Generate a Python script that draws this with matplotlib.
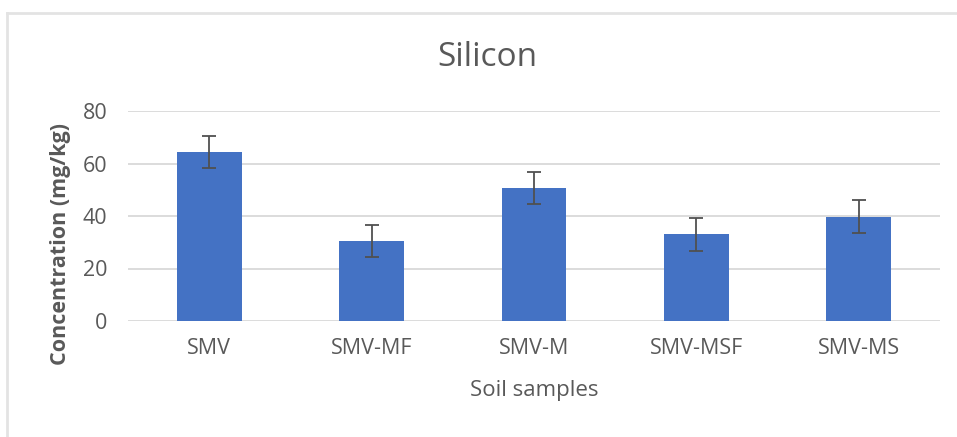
import matplotlib.pyplot as plt
from matplotlib.lines import Line2D
import numpy as np

# data
samples = ['SMV', 'SMV-MF', 'SMV-M', 'SMV-MSF', 'SMV-MS']
silicon = [64.3, 30.6, 50.7, 33.0, 39.8]
errors = [6.1, 6.1, 6.2, 6.2, 6.2]
yticks = [0, 20, 40, 60, 80]

plt.rcParams['font.family'] = ['Open Sans', 'DejaVu Sans']
txt = '#595959'

W, H = 957, 437
fig = plt.figure(figsize=(W / 100, H / 100), dpi=100)
ax = fig.add_axes([128 / W, 1 - 321 / H, 812 / W, 210 / H])

x = np.arange(len(samples))
ax.bar(x, silicon, width=0.4, color='#4472C4', zorder=3)
ax.errorbar(x, silicon, yerr=errors, fmt='none', ecolor='#505050',
            elinewidth=1.3, capsize=4.7, capthick=1.3, zorder=4)

ax.set_xlim(-0.5, len(samples) - 0.5)
ax.set_ylim(0, 80)
ax.set_yticks(yticks)
ax.set_xticks(x)
ax.set_xticklabels(samples)
ax.grid(axis='y', color='#D9D9D9', linewidth=1.3, zorder=0)
for s in ax.spines.values():
    s.set_visible(False)
ax.tick_params(axis='both', length=0, labelsize=15.5, labelcolor=txt)
ax.tick_params(axis='y', pad=15)
ax.tick_params(axis='x', pad=12)

fig.text(487 / W, 1 - 57 / H, 'Silicon', fontsize=24, color=txt,
         ha='center', va='center')
ax.set_xlabel('Soil samples', fontsize=16, color=txt)
ax.xaxis.set_label_coords(0.5, (321 - 380) / 210)
ax.set_ylabel('Concentration (mg/kg)', fontsize=15.5, color=txt, fontweight='bold')
ax.yaxis.set_label_coords((71 - 128) / 812, (321 - 244) / 210)

# chart border (runs off the right and bottom edges)
fig.add_artist(Line2D([7.5 / W, 1], [1 - 12.5 / H] * 2, color='#E3E3E3', lw=2))
fig.add_artist(Line2D([7.5 / W] * 2, [0, 1 - 12.5 / H], color='#E3E3E3', lw=2))

fig.savefig('out.png', dpi=100, facecolor='white')
